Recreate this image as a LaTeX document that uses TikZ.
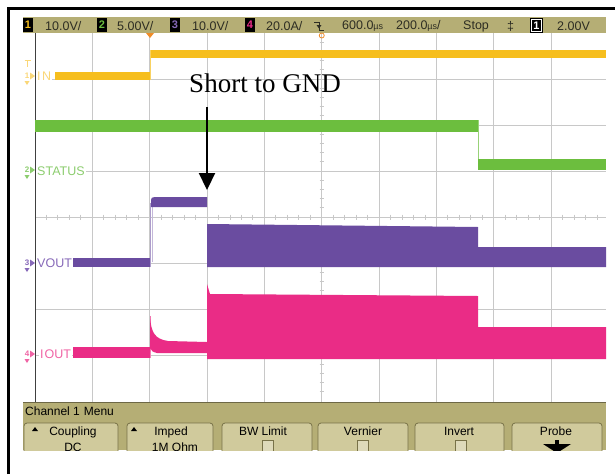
\documentclass[tikz,border=0pt]{standalone}
\usepackage{fontspec}
\setmainfont{Liberation Sans}
\newfontfamily\serifA{Liberation Serif}
\usetikzlibrary{arrows.meta}
\definecolor{scopeolive}{RGB}{181,174,117}
\definecolor{btnfill}{RGB}{208,202,156}
\definecolor{btnedge}{RGB}{120,114,72}
\definecolor{gridc}{RGB}{200,200,200}
\definecolor{yel}{RGB}{246,190,30}
\definecolor{yellab}{RGB}{250,215,120}
\definecolor{grn}{RGB}{108,190,62}
\definecolor{grnlab}{RGB}{140,205,110}
\definecolor{pur}{RGB}{106,76,160}
\definecolor{purlab}{RGB}{135,105,185}
\definecolor{pnk}{RGB}{234,44,134}
\definecolor{pnklab}{RGB}{240,100,165}
\definecolor{trig}{RGB}{240,140,40}
\definecolor{hdrtext}{RGB}{45,45,35}
\begin{document}
\begin{tikzpicture}[x=1pt,y=-1pt,
  hdr/.style={anchor=west,inner sep=0pt,text=hdrtext,font=\fontsize{12.5}{12.5}\selectfont},
  lab/.style={anchor=west,inner sep=1pt,fill=white,font=\fontsize{12.5}{12.5}\selectfont},
  badge/.style={fill=black,minimum width=10pt,minimum height=14pt,inner sep=0pt,font=\bfseries\fontsize{11}{11}\selectfont},
  btn/.style={fill=btnfill,draw=btnedge,line width=0.8pt,rounded corners=3pt},
  btntext/.style={anchor=base,inner sep=0pt,text=black,font=\fontsize{12}{12}\selectfont},
  chk/.style={fill=btnfill!70!white,draw=btnedge,line width=0.8pt},
  gridline/.style={draw=gridc,line width=0.9pt},
  tri/.style={fill=black}
]
\useasboundingbox (0,0) rectangle (615,474);
\fill[white] (0,0) rectangle (615,474);
% outer frame
\draw[line width=3pt] (8,474) -- (8,8) -- (615,8);
% header bar
\fill[scopeolive] (23,17) rectangle (606,33);
% grid
\foreach \i in {1,...,9} \draw[gridline] ({35+57.35*\i},33) -- ({35+57.35*\i},402);
\foreach \j in {1,...,7} \draw[gridline] (35,{33+46*\j}) -- (606,{33+46*\j});
\foreach \k in {1,...,39} \draw[gridline] (319.5,{33+9.2*\k}) -- (324,{33+9.2*\k});
\foreach \k in {1,...,49} \draw[gridline] ({35+11.47*\k},214.5) -- ({35+11.47*\k},219.5);
\draw[draw=black!75,line width=0.9pt] (35,33) -- (35,402);
% channel 1 (IN)
\fill[yel] (55,72) rectangle (150,80);
\draw[yel!70!white,line width=0.8pt] (150.5,80) -- (150.5,50);
\fill[yel] (151,50) rectangle (606,58);
% channel 2 (STATUS)
\fill[grn] (35,120) rectangle (478,132);
\draw[grn!70!white,line width=0.8pt] (478,120) -- (478,170);
\fill[grn] (478,159) rectangle (606,170);
% channel 3 (VOUT)
\fill[pur] (73,258) rectangle (150,267);
\draw[pur!55!white,line width=0.8pt] (150.5,267) -- (150.5,203);
\draw[pur!40!white,line width=0.6pt] (152.5,262) -- (152.5,206);
\fill[pur] (151,207) -- (151,200) .. controls (151,198) and (152,197) .. (155,197) -- (207,197) -- (207,207) -- cycle;
\fill[pur] (207,224) -- (478,227) -- (478,247) -- (606,247) -- (606,267) -- (207,267) -- cycle;
% channel 4 (IOUT)
\fill[pnk] (73,347) rectangle (150,358);
\draw[pnk!60!white,line width=0.6pt] (150.5,358) -- (150.5,316);
\fill[pnk] (150,352) -- (150,316) .. controls (151,333) and (155,339) .. (168,341) -- (207,342) -- (207,353) -- (157,353) .. controls (153,352) and (151,351) .. (150,348) -- cycle;
\fill[pnk] (207,359) -- (207,284) -- (210,294) -- (478,296) -- (478,327) -- (606,327) -- (606,359) -- cycle;
% left labels
\node[lab,text=yellab] (inlab) at (36,76) {I\hspace{1.5pt}N};
\node[lab,text=grnlab] (statuslab) at (36,171) {STATUS};
\node[lab,text=purlab] (voutlab) at (36,263) {VOUT};
\node[lab,text=pnklab] (ioutlab) at (39,354) {I\hspace{1pt}OUT};
\foreach \n/\yy/\c in {1/76/yellab,2/170/grnlab,3/263/purlab,4/354/pnklab} {
  \node[inner sep=0pt,text=\c,font=\bfseries\fontsize{8}{8}\selectfont] (mk\n) at (27,\yy) {\n};
  \fill[\c] (30,{\yy-3.5}) -- (35,\yy) -- (30,{\yy+3.5}) -- cycle;
  \fill[\c] (24.5,{\yy+5}) -- (29.5,{\yy+5}) -- (27,{\yy+9}) -- cycle;
}
\draw[yellab,line width=1pt] (24.5,60) -- (30.5,60) (27.5,60) -- (27.5,67);
% trigger markers
\fill[trig] (146,33) -- (154,33) -- (150,38) -- cycle;
\draw[trig,line width=0.8pt] (321.75,35.5) circle (2.5pt);
% header contents
\node[badge,text=yel] (bd1) at (28,25) {1};
\node[hdr] (h1) at (45,26) {10.0V/};
\node[badge,text=grn] (bd2) at (102,25) {2};
\node[hdr] (h2) at (117,26) {5.00V/};
\node[badge,text=purlab] (bd3) at (175,25) {3};
\node[hdr] (h3) at (192,26) {10.0V/};
\node[badge,text=pnk] (bd4) at (250,25) {4};
\node[hdr] (h4) at (266,26) {20.0A/};
\draw[hdrtext,line width=1pt] (314,22) -- (319,22) -- (319,30) -- (324,30);
\fill[hdrtext] (316.5,25) -- (321.5,25) -- (319,28.5) -- cycle;
\node[hdr] (h5) at (342,26) {600.0{\fontsize{9}{9}\selectfont µs}};
\node[hdr] (h6) at (396,26) {200.0{\fontsize{9}{9}\selectfont µs}/};
\node[hdr] (h7) at (463,26) {Stop};
\node[hdr] (h8) at (507,26) {‡};
\node[badge,text=white,minimum width=13pt,minimum height=15pt] (bd5) at (536.5,25.5) {1};
\draw[white,line width=0.7pt] (531.5,19.5) rectangle (541.5,31.5);
\node[hdr] (h9) at (557,26) {2.00V};
% annotation
\node[anchor=base,inner sep=0pt,font=\serifA\fontsize{27}{27}\selectfont] (short) at (265,92) {Short to GND};
\coordinate (tail) at (207,107);
\coordinate (tip) at (207,190);
\draw[line width=2.2pt,-{Triangle[length=17pt,width=16pt]}] (tail) -- (tip);
% menu
\fill[scopeolive] (23,402) rectangle (606,450);
\draw[scopeolive!60!black,line width=1.2pt] (23,402.6) -- (606,402.6);
\node[anchor=west,inner sep=0pt,font=\fontsize{12}{12}\selectfont] (menu) at (25,411) {Channel 1\hspace{4pt}Menu};
\begin{scope}
\clip (23,402) rectangle (606,450);
\foreach \xa/\xb in {24/118,127/213,222/312,318/408,415/504,512/602}
  \filldraw[btn] (\xa,458) -- (\xa,423) -- (\xb,423) -- (\xb,458) -- cycle;
\node[btntext] (b1a) at (73,435.5) {Coupling};
\node[btntext] (b1b) at (73,451.5) {DC};
\node[btntext] (b2a) at (171,435.5) {Imped};
\node[btntext] (b2b) at (175,451.5) {1M Ohm};
\node[btntext] (b3a) at (263,435.5) {BW Limit};
\node[btntext] (b4a) at (363,435.5) {Vernier};
\node[btntext] (b5a) at (459,435.5) {Invert};
\node[btntext] (b6a) at (556,435.5) {Probe};
\fill[tri] (32,431) -- (38,431) -- (35,427) -- cycle;
\fill[tri] (131,431) -- (137,431) -- (134,427) -- cycle;
\filldraw[chk] (262,440) rectangle (273,458);
\filldraw[chk] (357,440) rectangle (368,458);
\filldraw[chk] (455,440) rectangle (466,458);
\fill[black] (555,440) rectangle (559,444);
\fill[black] (543,444) -- (571,444) -- (557,453) -- cycle;
\end{scope}
\end{tikzpicture}
\end{document}
